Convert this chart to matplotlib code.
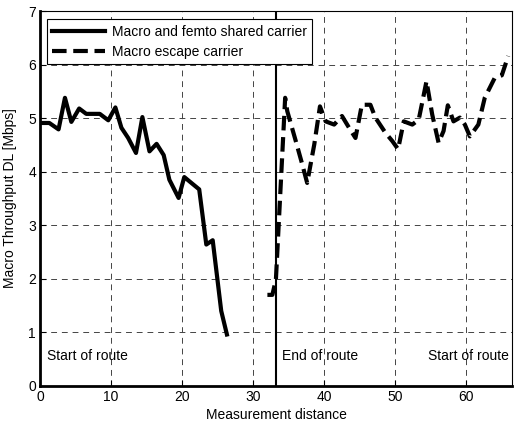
import matplotlib
matplotlib.use("Agg")
import matplotlib.pyplot as plt

plt.rcParams['font.family'] = ['Liberation Sans', 'DejaVu Sans']
plt.rcParams['font.size'] = 10

shared_x = [0, 1.3, 2.6, 3.5, 4.4, 5.5, 6.5, 8.4, 9.6, 10.6, 11.45, 12.4, 13.5, 14.4,
            15.4, 16.4, 17.4, 18.2, 19.5, 20.3, 21.3, 22.4, 23.4, 24.3, 25.5, 26.3]
shared_y = [4.91, 4.91, 4.79, 5.38, 4.93, 5.18, 5.08, 5.08, 4.96, 5.20, 4.82, 4.63, 4.35, 5.02,
            4.38, 4.52, 4.31, 3.85, 3.51, 3.90, 3.79, 3.67, 2.64, 2.72, 1.40, 0.96]

escape_x = [32.0, 32.7, 33.2, 34.5, 34.8, 36.0, 36.9, 37.6, 38.6, 39.4, 40.2, 41.4, 42.5,
            43.5, 44.4, 45.3, 46.5, 47.2, 48.6, 49.6, 50.4, 51.2, 52.4, 53.3, 54.4, 55.2,
            56.1, 56.8, 57.4, 58.2, 59.1, 59.8, 60.5, 61.7, 62.6, 64.0, 65.0, 65.9]
escape_y = [1.70, 1.70, 1.99, 5.38, 5.13, 4.57, 4.14, 3.79, 4.51, 5.22, 4.94, 4.88, 5.04,
            4.82, 4.63, 5.25, 5.25, 5.01, 4.73, 4.57, 4.42, 4.94, 4.88, 4.97, 5.69, 5.07,
            4.54, 4.76, 5.24, 4.94, 5.01, 4.88, 4.66, 4.88, 5.38, 5.75, 5.80, 6.16]

route_break = 33.2
annotations = [(1.0, "Start of route"), (34.1, "End of route"), (54.6, "Start of route")]
xticks = [0, 10, 20, 30, 40, 50, 60]
yticks = [0, 1, 2, 3, 4, 5, 6, 7]

fig = plt.figure(figsize=(5.14, 4.25), dpi=100)
ax = fig.add_axes([0.078, 0.092, 0.919, 0.882])

ax.plot(shared_x, shared_y, color='black', linewidth=3, label='Macro and femto shared carrier')
ax.plot(escape_x, escape_y, color='black', linewidth=3, linestyle=(0, (3.5, 1.6)),
        label='Macro escape carrier')
ax.axvline(route_break, color='black', linewidth=1.5)

for x, t in annotations:
    ax.text(x, 0.55, t, fontsize=10, va='center', ha='left')

ax.set_xlim(0, 66.5)
ax.set_ylim(0, 7)
ax.set_xticks(xticks)
ax.set_yticks(yticks)
ax.tick_params(direction='in', length=4, width=0.8, pad=3)
ax.grid(True, color='#444444', linestyle=(0, (6, 5)), linewidth=0.7)
for s in ['left', 'bottom']:
    ax.spines[s].set_linewidth(2.0)
for s in ['top', 'right']:
    ax.spines[s].set_linewidth(0.8)

ax.set_xlabel('Measurement distance', labelpad=3)
ax.set_ylabel('Macro Throughput DL [Mbps]', labelpad=8)

leg = ax.legend(loc='upper left', bbox_to_anchor=(0.005, 0.99), handlelength=3.8,
                fancybox=False, framealpha=1, edgecolor='black', borderaxespad=0.3,
                fontsize=10, labelspacing=0.45, borderpad=0.4, handletextpad=0.5)
leg.get_frame().set_linewidth(0.8)

fig.savefig('out.png', dpi=100)
